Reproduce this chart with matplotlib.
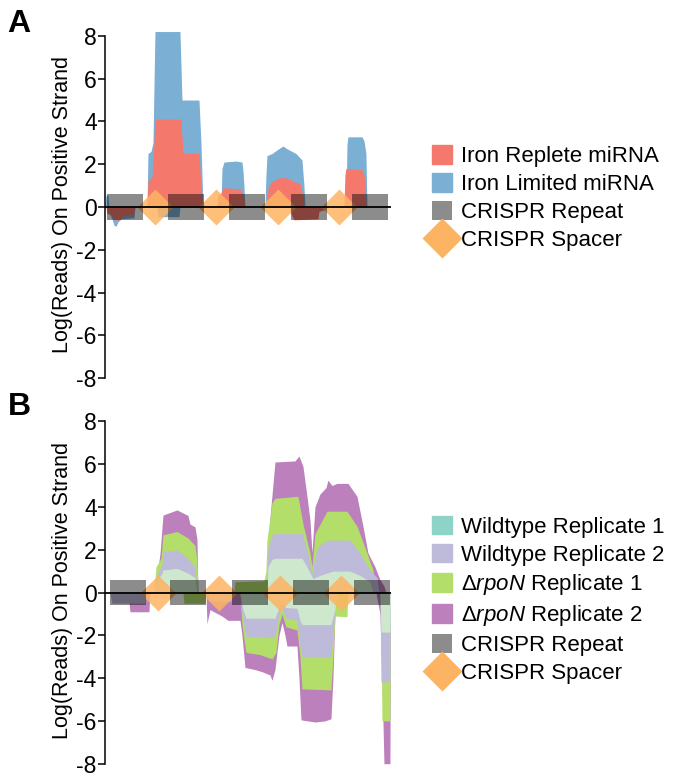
import matplotlib
matplotlib.use('Agg')
import matplotlib.pyplot as plt
from matplotlib.patches import Patch
from matplotlib.lines import Line2D
import numpy as np

plt.rcParams['font.family'] = ['Liberation Sans', 'DejaVu Sans']
plt.rcParams['mathtext.fontset'] = 'custom'
plt.rcParams['mathtext.rm'] = 'Liberation Sans'
plt.rcParams['mathtext.it'] = 'Liberation Sans:italic'
plt.rcParams['axes.unicode_minus'] = False

# ---- panel A: iron replete / limited miRNA (x = position along array) ----
iron_lim_pos_x = [105, 106, 108, 109, 147, 148, 151, 153, 155, 180, 182, 199, 201, 203,
                  221, 222, 224, 236, 242, 243, 244, 245,
                  265, 266, 267, 272, 278, 283, 286, 292, 296, 302, 304, 305,
                  346, 347, 348, 362, 364, 366, 367]
iron_lim_pos_y = [0, 0.55, 0.55, 0, 0, 2.5, 2.6, 3.0, 8.2, 8.2, 5.0, 5.0, 3.0, 0,
                  0, 1.8, 2.1, 2.15, 2.1, 1.7, 1.0, 0,
                  0, 1.5, 2.4, 2.5, 2.7, 2.85, 2.75, 2.6, 2.5, 2.2, 1.0, 0,
                  0, 2.9, 3.28, 3.28, 3.1, 2.5, 0]
iron_lim_neg_x = [109, 110, 112, 114, 116, 118, 121, 134, 135, 157, 158, 179, 180]
iron_lim_neg_y = [0, -0.35, -0.55, -0.85, -0.9, -0.7, -0.55, -0.5, 0, 0, -0.45, -0.45, 0]

iron_rep_pos_x = [147, 148, 152, 154, 155, 181, 183, 199, 201, 203,
                  217, 218, 221, 223, 240, 243, 245,
                  267, 268, 272, 282, 290, 296, 300, 303, 304,
                  344, 345, 346, 362, 365, 366]
iron_rep_pos_y = [0, 1.2, 1.4, 3.0, 4.1, 4.1, 2.5, 2.5, 1.0, 0,
                  0, 0.55, 0.65, 0.9, 0.85, 0.6, 0,
                  0, 0.9, 1.2, 1.4, 1.3, 1.15, 1.1, 0.5, 0,
                  0, 1.5, 1.8, 1.75, 1.3, 0]
iron_rep_neg_x = [106, 107, 112, 114, 120, 123, 133, 135, 290, 291, 294, 318, 319, 326, 327]
iron_rep_neg_y = [0, -0.3, -0.35, -0.6, -0.6, -0.4, -0.35, 0, 0, -0.3, -0.6, -0.55, -0.2, -0.1, 0]

repeat_start_a = [107, 168, 229, 291, 352]
spacer_mid_a = [155, 216, 278, 339]

# ---- panel B: wildtype / delta rpoN replicates ----
dr2_pos_x = [155, 156, 160, 163, 177, 188, 190, 195, 197, 198,
             265, 267, 270, 275, 295, 299, 303, 307, 310, 312, 315, 320, 326, 328, 332,
             337, 348, 357, 363, 368, 375, 380, 384, 386]
dr2_pos_y = [0, 0.5, 1.8, 3.62, 3.86, 3.6, 3.2, 3.07, 2.5, 0,
             0, 0.8, 3.5, 6.1, 6.15, 6.38, 5.9, 4.5, 3.4, 1.85, 4.0, 4.6, 4.9, 5.25, 5.0,
             5.1, 5.1, 4.5, 3.1, 1.85, 1.2, 0.6, 0.3, 0]
dr2_neg_x = [128, 130, 149, 150, 206, 207, 210, 214, 222, 228, 240, 242, 245, 255, 262,
             270, 272, 275, 279, 282, 285, 287, 297, 299, 301, 315, 325, 331, 333, 335, 336,
             376, 378, 380, 382, 384, 390, 390.5]
dr2_neg_y = [0, -0.9, -0.9, 0, 0, -1.45, -0.8, -0.9, -1.1, -1.3, -1.3, -2.0, -3.5, -3.6, -3.7,
             -3.85, -4.1, -3.6, -2.0, -1.4, -2.0, -2.5, -2.5, -4.0, -5.95, -6.05, -6.0, -5.9, -4.0, -1.0, 0,
             0, -0.5, -1.0, -4.0, -8.0, -8.0, 0]

dr1_pos_x = [154, 156, 161, 163, 177, 188, 195, 197, 198,
             234, 235, 264, 266, 267, 272, 275, 298, 303, 310, 312, 315, 327, 347, 357, 367, 373, 376]
dr1_pos_y = [0, 1.2, 1.6, 2.7, 2.85, 2.55, 2.2, 1.5, 0,
             0, 0.5, 0.55, 1.0, 2.45, 4.2, 4.4, 4.5, 3.2, 1.85, 1.2, 2.75, 3.8, 3.8, 3.1, 1.85, 1.05, 0]
dr1_neg_x = [183, 184, 205, 206, 240, 242, 246, 260, 272, 276, 279, 282, 286, 297, 300, 302,
             331, 333, 335, 347, 348, 381, 382, 390, 390.5]
dr1_neg_y = [0, -0.5, -0.5, 0, 0, -1.5, -2.8, -2.9, -3.1, -2.8, -1.5, -1.0, -1.6, -1.75, -3.0, -4.5,
             -4.55, -3.0, -1.1, -1.13, 0, 0, -6.0, -6.0, 0]

wt2_pos_x = [155, 157, 162, 163, 177, 188, 195, 197,
             267, 268, 272, 275, 302, 307, 312, 317, 327, 350, 360, 370, 377, 379]
wt2_pos_y = [0.3, 0.8, 1.3, 1.91, 2.0, 1.6, 1.2, 0,
             0, 2.1, 2.7, 2.75, 2.75, 2.0, 0.9, 2.1, 2.45, 2.45, 1.85, 1.05, 0.7, 0]
wt2_neg_x = [110, 112, 145, 146, 208, 209, 231, 232, 240, 242, 246, 275, 279, 282, 286, 297,
             300, 302, 331, 334, 336, 380, 381, 382, 390, 390.5]
wt2_neg_y = [0, -0.5, -0.5, 0, 0, -0.4, -0.4, 0, 0, -1.0, -2.05, -2.1, -1.0, -0.7, -1.2, -1.3,
             -2.5, -3.0, -3.0, -1.5, 0, 0, -4.17, -4.17, -4.17, 0]

wt1_pos_x = [154, 156, 162, 163, 177, 188, 195, 197,
             267, 268, 272, 275, 302, 307, 313, 320, 333, 350, 360, 370, 373]
wt1_pos_y = [0, 0.5, 0.9, 1.05, 1.13, 0.9, 0.7, 0,
             0, 1.2, 1.55, 1.6, 1.6, 1.2, 0.65, 0.8, 1.0, 1.0, 0.8, 0.5, 0]
wt1_neg_x = [240, 243, 246, 275, 280, 282, 286, 297, 300, 302, 331, 335, 337,
             380, 381, 390, 390.5]
wt1_neg_y = [0, -0.8, -1.2, -1.2, -0.6, -0.55, -0.7, -0.74, -1.3, -1.5, -1.5, -0.8, 0,
             0, -1.85, -1.85, 0]

repeat_start_b = [110, 170, 232, 293, 354]
spacer_mid_b = [158, 219, 280, 341]
repeat_len = 36

c_red = '#f4796c'
c_blue = '#7bafd4'
c_purple = '#bc80bd'
c_green = '#b3de69'
c_lav = '#bebada'
c_mint = '#cde8cd'
c_teal = '#8dd3c7'
c_orange = '#fdb462'

fig = plt.figure(figsize=(6.83, 7.78), dpi=100)
ax_a = fig.add_axes([0.1537, 0.5111, 0.4187, 0.4511])
ax_b = fig.add_axes([0.1537, 0.0156, 0.4187, 0.4511])


def crispr(ax, starts, mids):
    ax.bar(starts, [1.2] * len(starts), width=repeat_len, bottom=-0.6, align='edge',
           color='black', alpha=0.45, lw=0, zorder=4)
    ax.plot(mids, [0] * len(mids), ls='none', marker='D', ms=18, color=c_orange,
            alpha=0.85, mec='none', zorder=3)
    ax.axhline(0, color='black', lw=1.3, zorder=5)


def style(ax):
    ax.set_xlim(105, 391)
    ax.set_ylim(-8.1, 8.3)
    ax.set_yticks(np.arange(-8, 9, 2))
    ax.set_xticks([])
    for s in ['top', 'right', 'bottom']:
        ax.spines[s].set_visible(False)
    ax.spines['left'].set_bounds(-8, 8)
    ax.spines['left'].set_linewidth(1.1)
    ax.tick_params(axis='y', labelsize=16.5, width=1.1, length=5, pad=1)
    ax.set_ylabel('Log(Reads) On Positive Strand', fontsize=15.5)
    ax.yaxis.set_label_coords(-0.112, 0.5)


# panel A
ax_a.fill_between(iron_lim_pos_x, 0, iron_lim_pos_y, color=c_blue, lw=0, zorder=1)
ax_a.fill_between(iron_lim_neg_x, 0, iron_lim_neg_y, color=c_blue, lw=0, zorder=1)
ax_a.fill_between(iron_rep_pos_x, 0, iron_rep_pos_y, color=c_red, lw=0, zorder=2)
ax_a.fill_between(iron_rep_neg_x, 0, iron_rep_neg_y, color=c_red, lw=0, zorder=2)
crispr(ax_a, repeat_start_a, spacer_mid_a)
style(ax_a)

# panel B
layers = [(dr2_pos_x, dr2_pos_y, dr2_neg_x, dr2_neg_y, c_purple),
          (dr1_pos_x, dr1_pos_y, dr1_neg_x, dr1_neg_y, c_green),
          (wt2_pos_x, wt2_pos_y, wt2_neg_x, wt2_neg_y, c_lav),
          (wt1_pos_x, wt1_pos_y, wt1_neg_x, wt1_neg_y, c_mint)]
for z, (px, py, nx, ny, col) in enumerate(layers):
    ax_b.fill_between(px, 0, py, color=col, lw=0, zorder=1 + z * 0.1)
    ax_b.fill_between(nx, 0, ny, color=col, lw=0, zorder=1 + z * 0.1)
crispr(ax_b, repeat_start_b, spacer_mid_b)
style(ax_b)

rep_patch = Patch(facecolor='black', alpha=0.45, edgecolor='none')
spacer_mark = Line2D([], [], ls='none', marker='D', ms=20, color=c_orange, mec='none')

leg_kw = dict(frameon=False, fontsize=16, handlelength=0.9, handleheight=0.9,
              handletextpad=0.4, labelspacing=0.28, borderpad=0, borderaxespad=0, loc='upper left')
fig.legend([Patch(color=c_red), Patch(color=c_blue), rep_patch, spacer_mark],
           ['Iron Replete miRNA', 'Iron Limited miRNA', 'CRISPR Repeat', 'CRISPR Spacer'],
           bbox_to_anchor=(0.6325, 0.8135), **leg_kw)
fig.legend([Patch(color=c_teal), Patch(color=c_lav), Patch(color=c_green), Patch(color=c_purple),
            rep_patch, spacer_mark],
           ['Wildtype Replicate 1', 'Wildtype Replicate 2',
            r'$\mathit{\Delta rpoN}$ Replicate 1', r'$\mathit{\Delta rpoN}$ Replicate 2',
            'CRISPR Repeat', 'CRISPR Spacer'],
           bbox_to_anchor=(0.6325, 0.337), **leg_kw)

fig.text(0.011, 1 - 32 / 778, 'A', fontsize=23, fontweight='bold', va='baseline')
fig.text(0.011, 1 - 415 / 778, 'B', fontsize=23, fontweight='bold', va='baseline')

fig.savefig('out.png', dpi=100)
